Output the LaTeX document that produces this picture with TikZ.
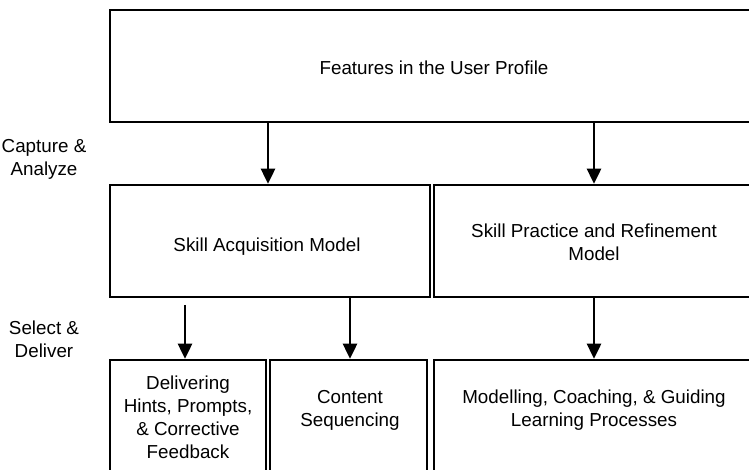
\documentclass[tikz,border=0pt]{standalone}
\usepackage{fontspec}
\setmainfont{Liberation Sans}
\usetikzlibrary{arrows.meta}
\begin{document}
\begin{tikzpicture}[x=1pt,y=1pt,
  box/.style={draw=black,line width=2.5pt,rectangle,inner sep=0pt,anchor=center},
  txt/.style={align=center,font=\fontsize{18.8}{23}\selectfont,inner sep=0pt},
  arr/.style={line width=2.5pt,-{Triangle[length=15pt,width=14pt]}}]
\useasboundingbox (0,0) rectangle (749,470);
\clip (0,0) rectangle (749,470);
% boxes
\node[box,minimum width=648pt,minimum height=112pt] (top) at (434,404) {};
\node[box,minimum width=320pt,minimum height=112pt] (acq) at (270,229) {};
\node[box,minimum width=320pt,minimum height=112pt] (prac) at (594,229) {};
\node[box,minimum width=156pt,minimum height=120pt] (hints) at (188,50) {};
\node[box,minimum width=157pt,minimum height=120pt] (seq) at (348.5,50) {};
\node[box,minimum width=320pt,minimum height=120pt] (model) at (594,50) {};
% texts
\node[txt] (ttop) at (434,402) {Features in the User Profile};
\node[txt] (tacq) at (267,223) {Skill Acquisition Model};
\node[txt] (tprac) at (594,227.5) {Skill Practice and Refinement\\Model};
\node[txt] (thints) at (188,53) {Delivering\\Hints, Prompts,\\\& Corrective\\Feedback};
\node[txt] (tseq) at (350,60) {Content\\Sequencing};
\node[txt] (tmodel) at (594,60) {Modelling, Coaching, \& Guiding\\Learning Processes};
\node[txt] (cap) at (44,311) {Capture \&\\Analyze};
\node[txt] (sel) at (44,131) {Select \&\\Deliver};
% arrows
\coordinate (a1s) at (185,165);
\draw[arr] (top.south -| 268,0) -- (acq.north -| 268,0);
\draw[arr] (top.south -| 594,0) -- (prac.north);
\draw[arr] (a1s) -- (hints.north -| a1s);
\draw[arr] (acq.south -| 350,0) -- (seq.north -| 350,0);
\draw[arr] (prac.south) -- (model.north);
\end{tikzpicture}
\end{document}
